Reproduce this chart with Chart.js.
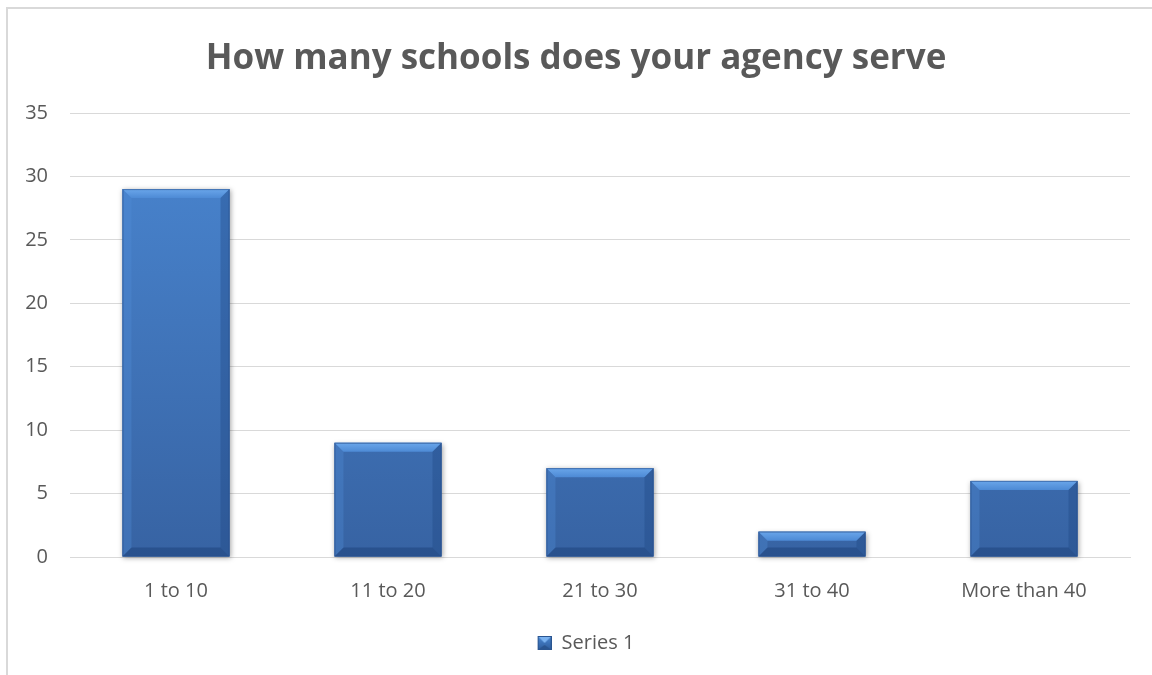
<!DOCTYPE html>
<html><head><meta charset="utf-8">
<script src="https://cdn.jsdelivr.net/npm/chart.js@4.4.1/dist/chart.umd.min.js"></script>
<style>
html,body{margin:0;padding:0;background:#fff;overflow:hidden;}
#wrap{position:absolute;left:0;top:0;width:1152px;height:675px;}
#frame{position:absolute;left:6px;top:7px;width:1160px;height:690px;border-left:2px solid #d9d9d9;border-top:2px solid #d9d9d9;box-sizing:border-box;}
canvas{position:absolute;left:0;top:0;}
</style></head>
<body>
<div id="wrap"><div id="frame"></div><canvas id="c" width="1152" height="675"></canvas></div>
<script>
const titleText = "How many schools does your agency serve";
const categories = ["1 to 10", "11 to 20", "21 to 30", "31 to 40", "More than 40"];
const seriesName = "Series 1";
const values = [29, 9, 7, 2, 6];
const yTicks = [0, 5, 10, 15, 20, 25, 30, 35];

const FONT = "'Open Sans', sans-serif";
const GREY = "#595959";

// legend marker: bevelled blue square, placed at right side of a wider transparent canvas
const marker = document.createElement("canvas");
marker.width = 34; marker.height = 14;
(function () {
  const m = marker.getContext("2d");
  const x0 = 20, s = 14;
  const g = m.createLinearGradient(0, 0, 0, s);
  g.addColorStop(0, "#4a87d2"); g.addColorStop(1, "#2f5d9c");
  m.fillStyle = g; m.fillRect(x0, 0, s, s);
  m.fillStyle = "#7ab2f0";
  m.beginPath(); m.moveTo(x0, 0); m.lineTo(x0 + s, 0); m.lineTo(x0 + s / 2, s / 2); m.closePath(); m.fill();
  m.fillStyle = "#2a5590";
  m.beginPath(); m.moveTo(x0, s); m.lineTo(x0 + s, s); m.lineTo(x0 + s / 2, s / 2 + 2); m.closePath(); m.fill();
  m.strokeStyle = "#2a5590"; m.lineWidth = 1; m.strokeRect(x0 + 0.5, 0.5, s - 1, s - 1);
})();

function faceGradient(ctx) {
  const chart = ctx.chart;
  const ca = chart.chartArea;
  if (!ca) return "#4178c0";
  const g = chart.ctx.createLinearGradient(0, ca.top, 0, ca.bottom);
  g.addColorStop(0, "#4a87d2");
  g.addColorStop(1, "#3763a3");
  return g;
}

const bevelPlugin = {
  id: "bevel",
  beforeDatasetsDraw(chart) {
    const c = chart.ctx;
    const meta = chart.getDatasetMeta(0);
    c.save();
    meta.data.forEach(el => {
      const l = el.x - el.width / 2, r = el.x + el.width / 2;
      c.shadowColor = "rgba(0,0,0,0.35)";
      c.shadowBlur = 5;
      c.shadowOffsetX = 1; c.shadowOffsetY = 1;
      c.fillStyle = "#3a6aad";
      c.fillRect(l, el.y, r - l, el.base - el.y);
    });
    c.restore();
  },
  afterDatasetsDraw(chart) {
    const c = chart.ctx;
    const meta = chart.getDatasetMeta(0);
    c.save();
    meta.data.forEach(el => {
      const l = el.x - el.width / 2, r = el.x + el.width / 2;
      const t = el.y, b = el.base;
      const bv = Math.min(9, (b - t) / 2);
      const poly = (pts, fill) => {
        c.beginPath();
        c.moveTo(pts[0][0], pts[0][1]);
        for (let i = 1; i < pts.length; i++) c.lineTo(pts[i][0], pts[i][1]);
        c.closePath();
        c.fillStyle = fill; c.fill();
      };
      const gt = c.createLinearGradient(0, t, 0, t + bv);
      gt.addColorStop(0, "#6aa6ea"); gt.addColorStop(1, "#4d8ad5");
      poly([[l, t], [r, t], [r - bv, t + bv], [l + bv, t + bv]], gt);
      poly([[l, t], [l + bv, t + bv], [l + bv, b - bv], [l, b]], "rgba(80,140,215,0.35)");
      poly([[r, t], [r - bv, t + bv], [r - bv, b - bv], [r, b]], "rgba(30,70,130,0.35)");
      poly([[l, b], [l + bv, b - bv], [r - bv, b - bv], [r, b]], "rgba(25,60,115,0.45)");
      c.strokeStyle = "rgba(40,80,140,0.6)"; c.lineWidth = 1;
      c.strokeRect(l + 0.5, t + 0.5, r - l - 1, b - t - 1);
    });
    c.restore();
  }
};

new Chart(document.getElementById("c"), {
  type: "bar",
  data: {
    labels: categories,
    datasets: [{
      label: seriesName,
      data: values,
      backgroundColor: faceGradient,
      borderWidth: 0,
      categoryPercentage: 1.0,
      barPercentage: 0.505
    }]
  },
  options: {
    responsive: false,
    animation: false,
    devicePixelRatio: 1,
    layout: { padding: { left: 22, right: 22, top: 38, bottom: 12 } },
    plugins: {
      title: {
        display: true, text: titleText, color: GREY,
        font: { family: FONT, size: 35, weight: "bold" },
        padding: { top: 0, bottom: 33 }
      },
      legend: {
        display: true, position: "bottom",
        labels: {
          color: GREY, font: { family: FONT, size: 20 },
          usePointStyle: true, pointStyleWidth: 34,
          boxWidth: 14, boxHeight: 14, padding: 10,
          generateLabels: () => [{ text: seriesName, pointStyle: marker, fillStyle: "#3b70b8", strokeStyle: "#2a5590", lineWidth: 1, fontColor: GREY }]
        }
      },
      tooltip: { enabled: false }
    },
    scales: {
      x: {
        grid: { display: false, drawTicks: false },
        border: { display: true, color: "#d9d9d9", width: 1 },
        ticks: { color: GREY, font: { family: FONT, size: 20 }, padding: 22, maxRotation: 0 },
        afterFit(s) { s.height = 66; }
      },
      y: {
        min: 0, max: 35,
        grid: { color: "#d9d9d9", lineWidth: 1, drawTicks: false },
        border: { display: false },
        afterBuildTicks(s) { s.ticks = yTicks.map(v => ({ value: v })); },
        ticks: { color: GREY, font: { family: FONT, size: 20 }, padding: 22 },
        afterFit(s) { s.width = 48; }
      }
    }
  },
  plugins: [bevelPlugin]
});
</script>
</body></html>
